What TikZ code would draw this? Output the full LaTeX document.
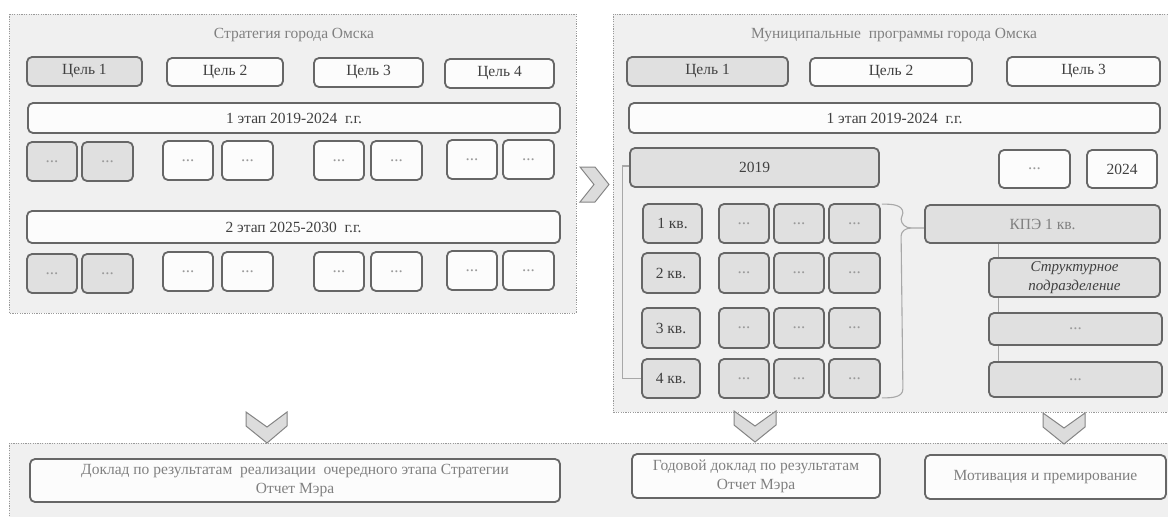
\documentclass[tikz,border=0pt]{standalone}
\usepackage{fontspec}
\setmainfont{Liberation Serif}
\usetikzlibrary{calc}
\pgfdeclarelayer{bg}\pgfdeclarelayer{lines}\pgfsetlayers{bg,lines,main}
\definecolor{panelc}{HTML}{F0F0F0}
\definecolor{grayc}{HTML}{E0E0E0}
\definecolor{whitec}{HTML}{FCFCFC}
\definecolor{bordc}{HTML}{666666}
\definecolor{txtc}{HTML}{404040}
\definecolor{lightt}{HTML}{808080}
\definecolor{dotc}{HTML}{9A9A9A}
\definecolor{linec}{HTML}{A8A8A8}
\definecolor{chevf}{HTML}{DCDCDC}
\definecolor{chevd}{HTML}{858585}
\tikzset{
  panel/.style={fill=panelc, draw=dotc, line width=0.9pt, dash pattern=on 1.2pt off 1.2pt},
  box/.style={draw=bordc, line width=1.8pt, rounded corners=5pt, inner sep=0pt, align=center,
              font=\fontsize{15.5}{19}\selectfont, text=txtc},
  wbox/.style={box, fill=whitec},
  gbox/.style={box, fill=grayc},
  dt/.style={font=\fontsize{17}{19}\selectfont, text=dotc},
  lt/.style={text=lightt},
  ttl/.style={font=\fontsize{15.5}{19}\selectfont, text=lightt, inner sep=0pt},
  conn/.style={draw=linec, line width=1.1pt},
  chev/.style={fill=chevf, draw=chevd, line width=1pt, line join=miter},
}
\newcommand\mkbox[7]{\node[#6,minimum width={#4pt-#2pt},minimum height={#5pt-#3pt}] (#1) at ({(#2+#4)/2},{(#3+#5)/2}) {#7};}
\begin{document}
\begin{tikzpicture}[x=1pt,y=-1pt]
\useasboundingbox (0,0) rectangle (1168,517);
\begin{pgfonlayer}{bg}
  \fill[white] (0,0) rectangle (1168,517);
  \draw[panel] (9,14) rectangle (576,313);
  \draw[panel] (613,14) rectangle (1180,412);
  \draw[panel] (9,443) rectangle (1180,530);
\end{pgfonlayer}
% ---------- left panel
\node[ttl] (tl) at (294,35) {Стратегия города Омска};
\mkbox{lg1}{27}{57}{142}{86}{gbox}{Цель 1}
\mkbox{lg2}{167}{58}{283}{86}{wbox}{Цель 2}
\mkbox{lg3}{314}{58}{423}{87}{wbox}{Цель 3}
\mkbox{lg4}{445}{59}{554}{88}{wbox}{Цель 4}
\mkbox{ls1}{28}{103}{560}{133}{wbox}{1 этап 2019-2024\ \ г.г.}
\mkbox{la1}{27}{142}{77}{181}{gbox,dt}{...}
\mkbox{la2}{82}{142}{133}{181}{gbox,dt}{...}
\mkbox{la3}{163}{141}{213}{180}{wbox,dt}{...}
\mkbox{la4}{222}{141}{273}{180}{wbox,dt}{...}
\mkbox{la5}{314}{141}{364}{180}{wbox,dt}{...}
\mkbox{la6}{371}{141}{422}{180}{wbox,dt}{...}
\mkbox{la7}{447}{140}{497}{179}{wbox,dt}{...}
\mkbox{la8}{503}{140}{554}{179}{wbox,dt}{...}
\mkbox{ls2}{27}{211}{560}{243}{wbox}{2 этап 2025-2030\ \ г.г.}
\mkbox{lb1}{27}{254}{77}{293}{gbox,dt}{...}
\mkbox{lb2}{82}{254}{133}{293}{gbox,dt}{...}
\mkbox{lb3}{163}{252}{213}{291}{wbox,dt}{...}
\mkbox{lb4}{222}{252}{273}{291}{wbox,dt}{...}
\mkbox{lb5}{314}{252}{364}{291}{wbox,dt}{...}
\mkbox{lb6}{371}{252}{422}{291}{wbox,dt}{...}
\mkbox{lb7}{447}{251}{497}{290}{wbox,dt}{...}
\mkbox{lb8}{503}{251}{554}{290}{wbox,dt}{...}
% ---------- right panel
\node[ttl] (tr) at (894,35) {Муниципальные\ \ программы города Омска};
\mkbox{rg1}{627}{57}{788}{86}{gbox}{Цель 1}
\mkbox{rg2}{810}{58}{972}{86}{wbox}{Цель 2}
\mkbox{rg3}{1007}{57}{1160}{86}{wbox}{Цель 3}
\mkbox{rs1}{629}{103}{1160}{133}{wbox}{1 этап 2019-2024\ \ г.г.}
\mkbox{y19}{630}{148}{879}{187}{gbox}{2019}
\mkbox{ydot}{999}{150}{1070}{188}{wbox,dt}{...}
\mkbox{y24}{1087}{150}{1157}{188}{wbox}{2024}
\mkbox{q1}{643}{204}{702}{243}{gbox}{1 кв.}
\mkbox{q2}{642}{253}{700}{293}{gbox}{2 кв.}
\mkbox{q3}{642}{308}{700}{348}{gbox}{3 кв.}
\mkbox{q4}{642}{359}{700}{398}{gbox}{4 кв.}
\mkbox{c11}{719}{204}{769}{243}{gbox,dt}{...}
\mkbox{c12}{774}{204}{824}{243}{gbox,dt}{...}
\mkbox{c13}{829}{204}{880}{243}{gbox,dt}{...}
\mkbox{c21}{719}{253}{769}{293}{gbox,dt}{...}
\mkbox{c22}{774}{253}{824}{293}{gbox,dt}{...}
\mkbox{c23}{829}{253}{880}{293}{gbox,dt}{...}
\mkbox{c31}{719}{308}{769}{348}{gbox,dt}{...}
\mkbox{c32}{774}{308}{824}{348}{gbox,dt}{...}
\mkbox{c33}{829}{308}{880}{348}{gbox,dt}{...}
\mkbox{c41}{719}{359}{769}{398}{gbox,dt}{...}
\mkbox{c42}{774}{359}{824}{398}{gbox,dt}{...}
\mkbox{c43}{829}{359}{880}{398}{gbox,dt}{...}
\mkbox{kpe}{925}{205}{1160}{243}{gbox,lt}{КПЭ 1 кв.}
\mkbox{sp}{989}{258}{1160}{297}{gbox}{\fontsize{15}{17}\selectfont\itshape Структурное\\\fontsize{15}{17}\selectfont\itshape подразделение}
\mkbox{d1}{989}{313}{1162}{345}{gbox,dt}{...}
\mkbox{d2}{989}{362}{1162}{397}{gbox,dt}{...}
% ---------- bottom panel
\mkbox{b1}{30}{459}{560}{502}{wbox,lt}{Доклад по результатам\ \ реализации\ \ очередного этапа Стратегии\\Отчет Мэра}
\mkbox{b2}{632}{454}{880}{498}{wbox,lt}{Годовой доклад по результатам\\Отчет Мэра}
\mkbox{b3}{925}{455}{1166}{499}{wbox,lt}{Мотивация и премирование}
% ---------- connectors
\begin{pgfonlayer}{lines}
  \draw[conn] ($(y19.west)+(0,-1.5)$) -| ($(q4.west)+(-19,0)$) -- (q4.west);
  \coordinate (bt) at ($(c13.north east)+(1,1)$);
  \coordinate (bb) at ($(c43.south east)+(1,-1)$);
  \draw[conn] (bt) to[out=0,in=90] ($(bt)+(21,9)$) -- ($(kpe.west)+(-23,-5)$)
     to[out=-90,in=180] ($(kpe.west)+(-13,4)$) -- ($(kpe.west)+(0,4)$);
  \draw[conn] ($(kpe.west)+(-13,4)$) to[out=180,in=90] ($(kpe.west)+(-23,12)$)
     -- ($(bb)+(21,-9)$) to[out=-90,in=0] (bb);
  \draw[conn] ($(kpe.south -| d2.west)+(10,0)$) -- ($(d2.north west)+(10,0)$);
\end{pgfonlayer}
% ---------- chevrons
\draw[chev] (580,167) -- (595,167) -- (609,184.5) -- (595,202) -- (580,202) -- (594,184.5) -- cycle;
\draw[chev] (246,412) -- (267,427) -- (287,412) -- (287,426) -- (267,443) -- (246,426) -- cycle;
\draw[chev] (734,411) -- (755,426) -- (776,411) -- (776,425) -- (755,442) -- (734,425) -- cycle;
\draw[chev] (1043,413) -- (1064,428) -- (1085,413) -- (1085,427) -- (1064,444) -- (1043,427) -- cycle;
\end{tikzpicture}
\end{document}
